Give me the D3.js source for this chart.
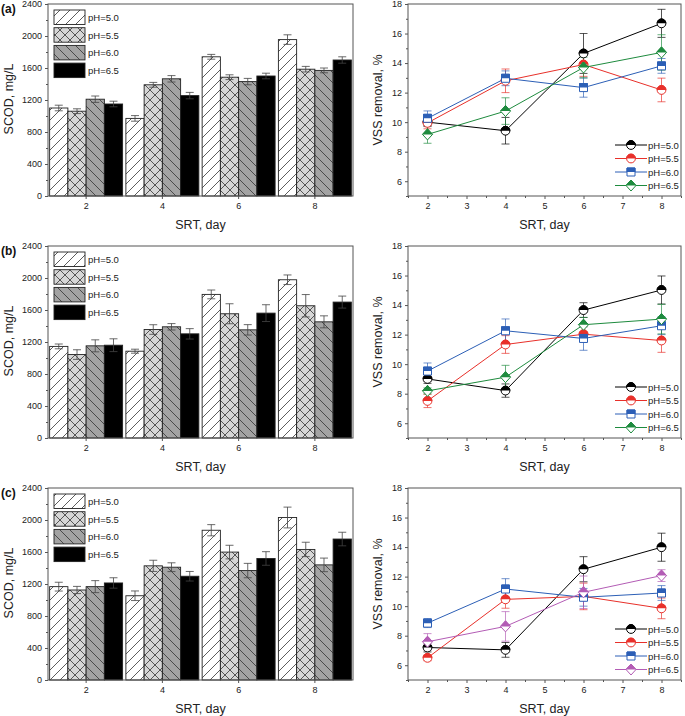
<!DOCTYPE html>
<html><head><meta charset="utf-8">
<script src="https://cdn.jsdelivr.net/npm/d3@7"></script>
<style>body{margin:0;background:#fff}svg{display:block;font-family:"Liberation Sans",Arial,sans-serif}</style>
</head><body><svg id="c" width="685" height="716"></svg>
<script>
// ---------- data ----------
const srtDays = [2, 4, 6, 8];
const phLabels = ["pH=5.0", "pH=5.5", "pH=6.0", "pH=6.5"];
const panelLabels = ["(a)", "(b)", "(c)"];
const scodTicks = [0, 400, 800, 1200, 1600, 2000, 2400];
const vssTicks = [6, 8, 10, 12, 14, 16, 18];
const srtTicks = [2, 3, 4, 5, 6, 7, 8];

// SCOD (mg/L), one row per pH, values at SRT 2,4,6,8
const scodA = [[1100, 970, 1740, 1955], [1060, 1390, 1485, 1585], [1210, 1465, 1430, 1570], [1150, 1255, 1500, 1700]];
const scodErrA = [[35, 35, 30, 60], [30, 30, 30, 35], [40, 40, 40, 30], [35, 40, 35, 40]];
const scodB = [[1145, 1085, 1795, 1978], [1043, 1356, 1553, 1653], [1152, 1390, 1352, 1452], [1160, 1302, 1561, 1699]];
const scodErrB = [[30, 25, 55, 60], [60, 60, 125, 140], [75, 40, 65, 75], [80, 65, 105, 75]];
const scodC = [[1167, 1053, 1872, 2031], [1125, 1427, 1599, 1632], [1167, 1410, 1368, 1439], [1213, 1297, 1519, 1762]];
const scodErrC = [[55, 60, 70, 130], [45, 70, 85, 90], [75, 55, 90, 85], [65, 60, 85, 85]];

// VSS removal (%), one row per pH
const vssA = [[10.0, 9.42, 14.65, 16.69], [9.95, 12.8, 13.9, 12.18], [10.26, 12.97, 12.34, 13.81], [9.17, 10.75, 13.7, 14.72]];
const vssErrA = [[0.3, 0.9, 1.35, 0.95], [0.4, 0.8, 0.8, 0.8], [0.5, 0.5, 0.65, 0.5], [0.6, 0.9, 0.7, 1.2]];
const vssB = [[9.0, 8.21, 13.66, 15.02], [7.51, 11.33, 12.03, 11.6], [9.53, 12.26, 11.74, 12.6], [8.19, 9.12, 12.67, 13.05]];
const vssErrB = [[0.3, 0.45, 0.5, 0.95], [0.45, 0.6, 0.5, 0.8], [0.55, 0.8, 0.8, 0.6], [0.2, 0.8, 0.5, 1.0]];
const vssC = [[7.2, 7.04, 12.5, 13.99], [6.5, 10.46, 10.66, 9.85], [8.85, 11.16, 10.6, 10.89], [7.59, 8.63, 10.94, 12.07]];
const vssErrC = [[0.3, 0.5, 0.85, 0.95], [0.2, 0.6, 0.9, 0.7], [0.3, 0.7, 0.6, 0.5], [0.55, 1.0, 1.1, 0.4]];

const lineColorsAB = ["#000000", "#e8302a", "#2c5fb6", "#1e8b3e"];
const lineColorsC = ["#000000", "#e8302a", "#2c5fb6", "#b35cb5"];
const markerShapes = ["circle", "circle", "square", "diamond"];

// ---------- drawing ----------
const svg = d3.select("#c");
const defs = svg.append("defs");

// patterns
function hatchPattern(id, bg, lines, size) {
  const p = defs.append("pattern").attr("id", id).attr("patternUnits", "userSpaceOnUse")
    .attr("width", size).attr("height", size);
  p.append("rect").attr("width", size).attr("height", size).attr("fill", bg);
  lines.forEach(d => p.append("path").attr("d", d).attr("stroke", "#333").attr("stroke-width", 0.8).attr("fill", "none"));
}
const s = 10;
hatchPattern("p0", "#ffffff", [`M0,${s} L${s},0 M-${s/2},${s/2} L${s/2},-${s/2} M${s/2},${s*1.5} L${s*1.5},${s/2}`], s);
hatchPattern("p1", "#d6d6d6", [`M0,${s} L${s},0 M-${s/2},${s/2} L${s/2},-${s/2} M${s/2},${s*1.5} L${s*1.5},${s/2}`,
  `M0,0 L${s},${s} M-${s/2},${s/2} L${s/2},${s*1.5} M${s/2},-${s/2} L${s*1.5},${s/2}`], s);
hatchPattern("p2", "#a3a3a3", [`M0,0 L${s},${s} M-${s/2},${s/2} L${s/2},${s*1.5} M${s/2},-${s/2} L${s*1.5},${s/2}`], s);
hatchPattern("p3", "#000000", [], s);
const fills = ["url(#p0)", "url(#p1)", "url(#p2)", "url(#p3)"];

defs.append("clipPath").attr("id", "tophalf").append("rect")
  .attr("x", -10).attr("y", -10).attr("width", 20).attr("height", 10);

const panels = [
  { label: panelLabels[0], top: 4, scod: scodA, scodErr: scodErrA, vss: vssA, vssErr: vssErrA, colors: lineColorsAB },
  { label: panelLabels[1], top: 246, scod: scodB, scodErr: scodErrB, vss: vssB, vssErr: vssErrB, colors: lineColorsAB },
  { label: panelLabels[2], top: 488, scod: scodC, scodErr: scodErrC, vss: vssC, vssErr: vssErrC, colors: lineColorsC },
];

const PH = 192;
const barL = 48, barR = 353;
const lineL = 408, lineR = 681;

function markerPath(shape) {
  if (shape === "circle") return d3.symbol().type(d3.symbolCircle).size(Math.PI * 4.4 * 4.4)();
  if (shape === "square") return "M-4,-4 H4 V4 H-4 Z";
  return "M0,-5.5 L5,0 L0,5.5 L-5,0 Z";
}
function drawMarker(g, x, y, shape, color) {
  const m = g.append("g").attr("transform", `translate(${x},${y})`);
  const d = markerPath(shape);
  m.append("path").attr("d", d).attr("fill", "#fff").attr("stroke", color).attr("stroke-width", 1);
  m.append("path").attr("d", d).attr("fill", color).attr("stroke", color).attr("stroke-width", 1)
    .attr("clip-path", "url(#tophalf)");
}

panels.forEach(p => {
  const top = p.top, bottom = p.top + PH;

  // ===== bar chart =====
  const gb = svg.append("g");
  const x0 = d3.scaleBand().domain(srtDays).range([barL, barR]).paddingInner(0).paddingOuter(0);
  const x1 = d3.scaleBand().domain(d3.range(phLabels.length)).range([0, x0.bandwidth()]).paddingOuter(0.09);
  const y = d3.scaleLinear().domain([0, 2400]).range([bottom, top]);

  // bars
  p.scod.forEach((series, si) => {
    series.forEach((v, di) => {
      const bx = x0(srtDays[di]) + x1(si);
      gb.append("rect").attr("x", bx).attr("y", y(v)).attr("width", x1.bandwidth()).attr("height", y(0) - y(v))
        .attr("fill", fills[si]).attr("stroke", "#222").attr("stroke-width", 0.9);
    });
  });
  // error bars
  p.scod.forEach((series, si) => {
    series.forEach((v, di) => {
      const cx = x0(srtDays[di]) + x1(si) + x1.bandwidth() / 2;
      const e = p.scodErr[si][di];
      const col = si === 3 ? "#444" : "#444";
      gb.append("line").attr("x1", cx).attr("x2", cx).attr("y1", y(v + e)).attr("y2", y(v - e)).attr("stroke", col).attr("stroke-width", 0.8);
      [v + e, v - e].forEach(w => gb.append("line").attr("x1", cx - 4).attr("x2", cx + 4).attr("y1", y(w)).attr("y2", y(w))
        .attr("stroke", col).attr("stroke-width", 0.8));
    });
  });
  // frame
  gb.append("rect").attr("x", barL).attr("y", top).attr("width", barR - barL).attr("height", PH)
    .attr("fill", "none").attr("stroke", "#555").attr("stroke-width", 1);
  // axes
  const yAx = gb.append("g").attr("transform", `translate(${barL},0)`)
    .call(d3.axisLeft(y).tickValues(scodTicks).tickSize(3).tickPadding(3).tickFormat(d3.format("d")));
  const yMinor = gb.append("g").attr("transform", `translate(${barL},0)`)
    .call(d3.axisLeft(y).tickValues(d3.range(200, 2400, 400)).tickSize(2).tickFormat(""));
  const xAx = gb.append("g").attr("transform", `translate(0,${bottom})`)
    .call(d3.axisBottom(x0).tickSize(3).tickPadding(4));
  [yAx, yMinor, xAx].forEach(a => {
    a.select(".domain").remove();
    a.selectAll("line").attr("stroke", "#555");
    a.selectAll("text").attr("font-size", 9).attr("fill", "#222").attr("font-family", "Liberation Sans, Arial, sans-serif");
  });
  // legend
  phLabels.forEach((lab, i) => {
    const ly = top + 6 + i * 17.7;
    gb.append("rect").attr("x", 54).attr("y", ly).attr("width", 31).attr("height", 14.5)
      .attr("fill", fills[i]).attr("stroke", "#222").attr("stroke-width", 0.9);
    gb.append("text").attr("x", 88).attr("y", ly + 11).attr("font-size", 9.5).attr("fill", "#222").text(lab);
  });
  // titles
  gb.append("text").attr("x", (barL + barR) / 2).attr("y", bottom + 33).attr("text-anchor", "middle")
    .attr("font-size", 12.5).attr("fill", "#222").text("SRT, day");
  gb.append("text").attr("transform", `translate(13,${top + 95}) rotate(-90)`).attr("text-anchor", "middle")
    .attr("font-size", 12.5).attr("fill", "#222").text("SCOD, mg/L");
  gb.append("text").attr("x", 1).attr("y", top + 9).attr("font-size", 12).attr("font-weight", "bold")
    .attr("fill", "#111").text(p.label);

  // ===== line chart =====
  const gl = svg.append("g");
  const xl = d3.scaleLinear().domain([1.5, 8.5]).range([lineL, lineR]);
  const yl = d3.scaleLinear().domain([5, 18]).range([bottom, top]);

  gl.append("rect").attr("x", lineL).attr("y", top).attr("width", lineR - lineL).attr("height", PH)
    .attr("fill", "none").attr("stroke", "#555").attr("stroke-width", 1);
  const ylAx = gl.append("g").attr("transform", `translate(${lineL},0)`)
    .call(d3.axisLeft(yl).tickValues(vssTicks).tickSize(3).tickPadding(3));
  const ylMinor = gl.append("g").attr("transform", `translate(${lineL},0)`)
    .call(d3.axisLeft(yl).tickValues([5, 7, 9, 11, 13, 15, 17]).tickSize(2).tickFormat(""));
  const xlAx = gl.append("g").attr("transform", `translate(0,${bottom})`)
    .call(d3.axisBottom(xl).tickValues(srtTicks).tickSize(3).tickPadding(4).tickFormat(d3.format("d")));
  const xlMinor = gl.append("g").attr("transform", `translate(0,${bottom})`)
    .call(d3.axisBottom(xl).tickValues(d3.range(1.5, 8.6, 1)).tickSize(2).tickFormat(""));
  [ylAx, ylMinor, xlAx, xlMinor].forEach(a => {
    a.select(".domain").remove();
    a.selectAll("line").attr("stroke", "#555");
    a.selectAll("text").attr("font-size", 9).attr("fill", "#222").attr("font-family", "Liberation Sans, Arial, sans-serif");
  });

  const line = d3.line().x((d, i) => xl(srtDays[i])).y(d => yl(d));
  // error bars
  p.vss.forEach((series, si) => {
    const col = p.colors[si];
    series.forEach((v, di) => {
      const cx = xl(srtDays[di]);
      const e = p.vssErr[si][di];
      gl.append("line").attr("x1", cx).attr("x2", cx).attr("y1", yl(v + e)).attr("y2", yl(v - e))
        .attr("stroke", col).attr("stroke-width", 0.9).attr("opacity", 0.75);
      [v + e, v - e].forEach(w => gl.append("line").attr("x1", cx - 4).attr("x2", cx + 4).attr("y1", yl(w)).attr("y2", yl(w))
        .attr("stroke", col).attr("stroke-width", 0.9).attr("opacity", 0.75));
    });
  });
  // lines
  p.vss.forEach((series, si) => {
    gl.append("path").datum(series).attr("d", line).attr("fill", "none").attr("stroke", p.colors[si]).attr("stroke-width", 1);
  });
  // markers
  p.vss.forEach((series, si) => {
    series.forEach((v, di) => drawMarker(gl, xl(srtDays[di]), yl(v), markerShapes[si], p.colors[si]));
  });
  // legend
  phLabels.forEach((lab, i) => {
    const ly = top + 141 + i * 13.5;
    gl.append("line").attr("x1", 615).attr("x2", 647).attr("y1", ly).attr("y2", ly).attr("stroke", p.colors[i]).attr("stroke-width", 1);
    drawMarker(gl, 631, ly, markerShapes[i], p.colors[i]);
    gl.append("text").attr("x", 648).attr("y", ly + 3.5).attr("font-size", 9.5).attr("fill", "#222").text(lab);
  });
  gl.append("text").attr("x", (lineL + lineR) / 2).attr("y", bottom + 33).attr("text-anchor", "middle")
    .attr("font-size", 12.5).attr("fill", "#222").text("SRT, day");
  gl.append("text").attr("transform", `translate(382,${top + 96}) rotate(-90)`).attr("text-anchor", "middle")
    .attr("font-size", 12.5).attr("fill", "#222").text("VSS removal, %");
});
</script></body></html>
